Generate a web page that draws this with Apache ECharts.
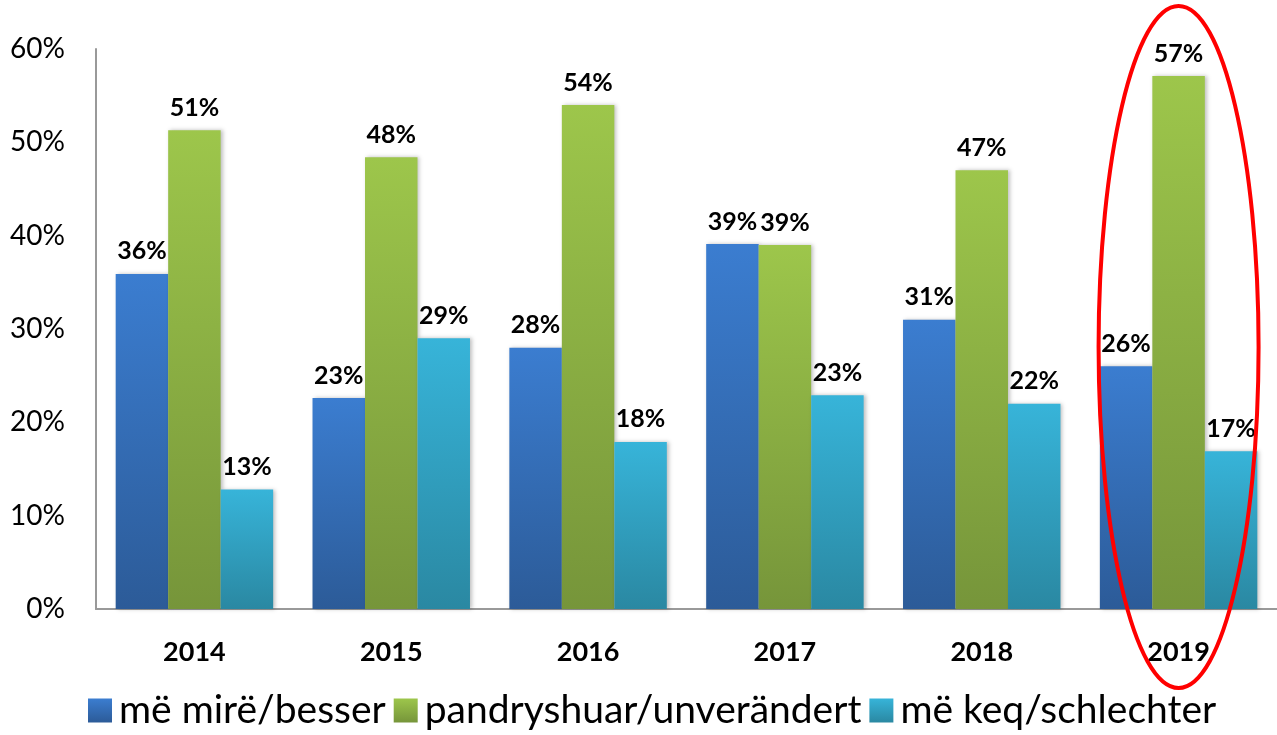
<!DOCTYPE html>
<html>
<head>
<meta charset="utf-8">
<script src="https://cdn.jsdelivr.net/npm/echarts@6/dist/echarts.min.js"></script>
<style>
  html, body { margin: 0; padding: 0; background: #fff; }
  #chart { width: 1277px; height: 735px; }
</style>
</head>
<body>
<div id="chart"></div>
<script>
var years = ['2014', '2015', '2016', '2017', '2018', '2019'];
var better = [35.9, 22.6, 28.0, 39.1, 31.0, 26.0];
var unchanged = [51.3, 48.4, 54.0, 39.0, 47.0, 57.1];
var worse = [12.8, 29.0, 17.9, 22.9, 22.0, 16.9];
var seriesNames = ['më mirë/besser', 'pandryshuar/unverändert', 'më keq/schlechter'];
var highlightYear = '2019';

var font = 'Lato, "Liberation Sans", sans-serif';

// verlauf oben hell, unten dunkel
function grad(top, bottom) {
    return new echarts.graphic.LinearGradient(0, 0, 0, 1, [
        { offset: 0, color: top },
        { offset: 1, color: bottom }
    ]);
}

var colors = [
    grad('#3b7dd0', '#2c5b98'),
    grad('#9dc64b', '#76953a'),
    grad('#37b4d9', '#2a88a2')
];

function makeSeries(name, data, color) {
    return {
        name: name,
        type: 'bar',
        data: data,
        barGap: '0%',
        barCategoryGap: '20%',
        itemStyle: {
            color: color,
            shadowColor: 'rgba(0,0,0,0.25)',
            shadowBlur: 4,
            shadowOffsetX: 2
        },
        label: {
            show: true,
            position: 'top',
            distance: 10,
            fontFamily: font,
            fontWeight: 'bold',
            fontSize: 25,
            color: '#000',
            formatter: function (p) { return Math.round(p.value) + '%'; }
        }
    };
}

var chart = echarts.init(document.getElementById('chart'));
chart.setOption({
    animation: false,
    grid: { left: 96, right: 0, top: 49, bottom: 126, containLabel: false },
    legend: {
        bottom: 0,
        left: 83,
        itemWidth: 24,
        itemHeight: 24,
        itemGap: 8,
        icon: 'rect',
        textStyle: { fontFamily: font, fontSize: 39, color: '#000', padding: [0, 0, 0, 2] },
        data: seriesNames
    },
    xAxis: {
        type: 'category',
        data: years,
        axisLine: { lineStyle: { color: '#999', width: 2 } },
        axisTick: { show: false },
        axisLabel: {
            margin: 30,
            fontFamily: font,
            fontWeight: 'bold',
            fontSize: 27,
            color: '#000'
        }
    },
    yAxis: {
        type: 'value',
        min: 0,
        max: 60,
        interval: 10,
        axisLine: { show: true, lineStyle: { color: '#999', width: 2 } },
        axisTick: { show: false },
        splitLine: { show: false },
        axisLabel: {
            margin: 31,
            fontFamily: font,
            fontSize: 28,
            color: '#000',
            formatter: '{value}%'
        }
    },
    series: [
        makeSeries(seriesNames[0], better, colors[0]),
        makeSeries(seriesNames[1], unchanged, colors[1]),
        makeSeries(seriesNames[2], worse, colors[2])
    ]
});

// roter kreis um 2019
var cx = chart.convertToPixel({ xAxisIndex: 0 }, highlightYear);
chart.setOption({
    graphic: [{
        type: 'ellipse',
        shape: { cx: cx, cy: 347, rx: 80, ry: 341 },
        style: { fill: 'none', stroke: '#ff0000', lineWidth: 4 },
        z: 100
    }]
});
</script>
</body>
</html>
